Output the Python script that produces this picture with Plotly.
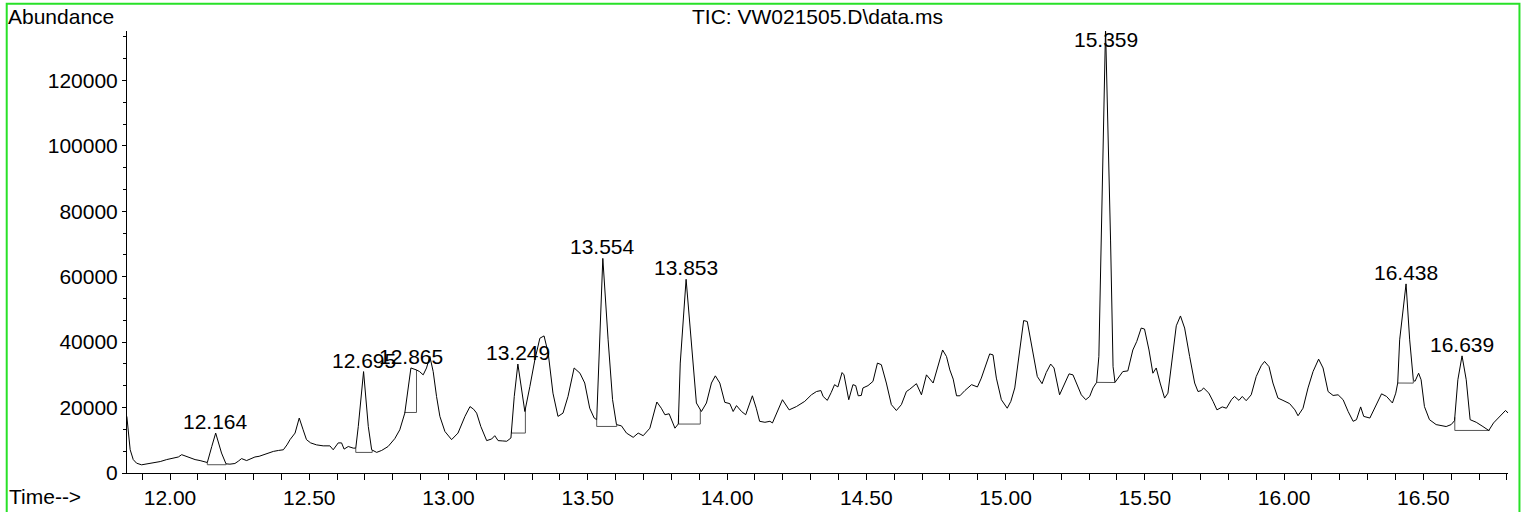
import numpy as np
import plotly.graph_objects as go

# ---- chromatogram (TIC) ----
time_min = [
    11.845, 11.857, 11.868, 11.880, 11.898, 11.920, 11.940, 11.965, 11.988, 12.012,
    12.030, 12.042, 12.055, 12.072, 12.090, 12.108, 12.125, 12.134, 12.150, 12.164,
    12.185, 12.201, 12.215, 12.233, 12.245, 12.257, 12.275, 12.290, 12.305, 12.320,
    12.335, 12.350, 12.371, 12.390, 12.407, 12.420, 12.431, 12.449, 12.464, 12.478,
    12.490, 12.505, 12.526, 12.550, 12.574, 12.586, 12.604, 12.616, 12.625, 12.640,
    12.658, 12.667, 12.676, 12.695, 12.712, 12.724, 12.742, 12.760, 12.783, 12.807,
    12.825, 12.843, 12.855, 12.865, 12.885, 12.896, 12.909, 12.921, 12.933, 12.945,
    12.957, 12.969, 12.987, 13.011, 13.034, 13.059, 13.077, 13.090, 13.101, 13.116,
    13.137, 13.155, 13.166, 13.178, 13.195, 13.209, 13.224, 13.236, 13.249, 13.262,
    13.274, 13.292, 13.310, 13.328, 13.343, 13.358, 13.375, 13.393, 13.411, 13.429,
    13.451, 13.472, 13.489, 13.507, 13.523, 13.532, 13.543, 13.554, 13.573, 13.589,
    13.603, 13.621, 13.639, 13.663, 13.681, 13.699, 13.723, 13.734, 13.748, 13.764,
    13.777, 13.792, 13.813, 13.825, 13.832, 13.853, 13.876, 13.890, 13.908, 13.926,
    13.944, 13.958, 13.974, 13.992, 14.010, 14.022, 14.034, 14.052, 14.067, 14.091,
    14.105, 14.117, 14.136, 14.154, 14.163, 14.183, 14.199, 14.223, 14.249, 14.279,
    14.303, 14.321, 14.337, 14.345, 14.360, 14.374, 14.386, 14.398, 14.413, 14.420,
    14.437, 14.452, 14.462, 14.471, 14.482, 14.488, 14.506, 14.524, 14.540, 14.554,
    14.572, 14.590, 14.608, 14.626, 14.644, 14.656, 14.680, 14.698, 14.716, 14.740,
    14.758, 14.774, 14.788, 14.800, 14.812, 14.824, 14.836, 14.854, 14.878, 14.899,
    14.913, 14.931, 14.943, 14.955, 14.967, 14.985, 15.006, 15.019, 15.033, 15.051,
    15.065, 15.078, 15.093, 15.114, 15.131, 15.146, 15.162, 15.174, 15.194, 15.212,
    15.228, 15.242, 15.257, 15.272, 15.288, 15.302, 15.314, 15.327, 15.335, 15.344,
    15.359, 15.377, 15.386, 15.393, 15.407, 15.421, 15.439, 15.457, 15.471, 15.487,
    15.499, 15.515, 15.529, 15.541, 15.555, 15.571, 15.583, 15.599, 15.613, 15.628,
    15.643, 15.661, 15.679, 15.691, 15.703, 15.711, 15.730, 15.745, 15.759, 15.778,
    15.793, 15.811, 15.822, 15.838, 15.850, 15.864, 15.882, 15.900, 15.918, 15.930,
    15.946, 15.960, 15.978, 15.996, 16.020, 16.039, 16.050, 16.068, 16.086, 16.104,
    16.124, 16.140, 16.158, 16.176, 16.194, 16.212, 16.230, 16.248, 16.260, 16.275,
    16.286, 16.308, 16.326, 16.350, 16.368, 16.389, 16.401, 16.408, 16.415, 16.438,
    16.451, 16.464, 16.470, 16.483, 16.492, 16.504, 16.522, 16.546, 16.582, 16.600,
    16.612, 16.624, 16.639, 16.654, 16.668, 16.690, 16.714, 16.735, 16.752, 16.774,
    16.795, 16.805,
]
abundance = [
    17300, 7100, 4100, 3000, 2500, 2800, 3000, 3500, 4100, 4600,
    4900, 5600, 5200, 4600, 4100, 3800, 3400, 3200, 8100, 12200,
    6100, 2800, 2700, 2900, 3600, 4400, 3800, 4300, 4900, 5100,
    5600, 5900, 6600, 6900, 7100, 8600, 10200, 12200, 16800, 13200,
    10200, 9200, 8600, 8300, 8300, 7100, 9200, 9200, 7300, 8100,
    7600, 7600, 14200, 31000, 14200, 7100, 6300, 6900, 8100, 10500,
    13200, 18300, 26400, 32100, 31500, 31000, 30000, 32100, 35600, 31000,
    23400, 17300, 12700, 10200, 12200, 17300, 20300, 19500, 18300, 14200,
    9900, 10400, 11400, 9900, 9800, 9700, 10700, 23400, 33300, 25400,
    18800, 26400, 34600, 41200, 41900, 36600, 24400, 17300, 18300, 23400,
    32100, 30500, 27500, 19800, 16800, 16300, 38700, 65600, 40700, 22400,
    14800, 14400, 12200, 10900, 12200, 11400, 13700, 17300, 21700, 19800,
    17800, 18100, 13700, 15000, 33600, 59200, 34600, 21400, 18800, 21400,
    27500, 29700, 27500, 21600, 21200, 18800, 20600, 18800, 17800, 23600,
    19800, 15800, 15500, 15800, 15300, 19300, 22400, 19300, 20300, 21900,
    23900, 24900, 25200, 23400, 22200, 24600, 27000, 26300, 30700, 30000,
    22400, 27000, 26700, 23600, 23700, 26000, 26700, 28000, 33600, 33100,
    27500, 20900, 19100, 20900, 24900, 25600, 27300, 23900, 30000, 27500,
    33100, 37600, 35600, 31500, 28700, 23600, 23600, 25200, 27000, 26300,
    29000, 33600, 36400, 36100, 29000, 22400, 19800, 21900, 26000, 37600,
    46600, 46300, 39700, 29500, 27300, 30700, 33300, 32100, 23900, 27500,
    30300, 30000, 26700, 23900, 22400, 23400, 26000, 27700, 35600, 71200,
    136000, 71200, 32500, 27700, 29500, 31000, 31200, 37600, 40200, 44300,
    44000, 37600, 30500, 32100, 27500, 22900, 24400, 34600, 45000, 48000,
    44300, 35600, 27500, 24900, 25200, 26000, 24400, 21900, 19300, 20200,
    19800, 22400, 23400, 22200, 23400, 22100, 23900, 29500, 32800, 34100,
    32500, 27500, 22900, 22200, 21200, 19300, 17500, 19800, 26000, 31000,
    34800, 32100, 24900, 23700, 23900, 22400, 18800, 15800, 16300, 20200,
    17300, 16800, 19800, 24200, 23400, 21400, 24400, 27500, 40700, 57800,
    40700, 28500, 28000, 30500, 28500, 20300, 16300, 14800, 14200, 14800,
    16000, 28500, 35800, 28500, 16300, 15500, 14200, 13000, 15300, 17300,
    19100, 18300,
]

# ---- integrated peaks ----
peak_labels = ["12.164", "12.695", "12.865", "13.249", "13.554", "13.853", "15.359", "16.438", "16.639"]
peak_times = [12.164, 12.695, 12.865, 13.249, 13.554, 13.853, 15.359, 16.438, 16.639]
int_start = [12.134, 12.667, 12.843, 13.226, 13.532, 13.826, 15.327, 16.408, 16.613]
int_end = [12.201, 12.726, 12.885, 13.276, 13.604, 13.904, 15.393, 16.464, 16.737]
int_base = [2530, 6290, 18500, 12210, 14230, 14960, 27660, 27480, 13010]

# ---- axes ----
x_range = [11.8456, 16.804]
y_range = [0, 135100]

FONT = "Liberation Sans, Arial, sans-serif"
FS = 21

fig = go.Figure()

for s, e, b in zip(int_start, int_end, int_base):
    ys = float(np.interp(s, time_min, abundance))
    ye = float(np.interp(e, time_min, abundance))
    fig.add_trace(go.Scatter(
        x=[s, s, e, e], y=[ys, b, b, ye], mode="lines",
        line=dict(color="#555555", width=1), hoverinfo="skip", showlegend=False,
    ))

fig.add_trace(go.Scatter(
    x=time_min, y=abundance, mode="lines",
    line=dict(color="black", width=1), showlegend=False,
))

label_cap = 129000
for lab, t in zip(peak_labels, peak_times):
    apex = float(np.interp(t, time_min, abundance))
    fig.add_annotation(
        x=t, y=min(apex, label_cap), text=lab, showarrow=False,
        xanchor="center", yanchor="bottom", yshift=-2,
        font=dict(family=FONT, size=FS, color="black"),
    )

# header / footer texts
fig.add_annotation(xref="paper", yref="paper", x=0.5, y=1.0332, text="TIC: VW021505.D\\data.ms",
                   showarrow=False, xanchor="center", yanchor="middle",
                   font=dict(family=FONT, size=FS, color="black"))
fig.add_annotation(xref="paper", yref="paper", x=-0.0875, y=1.0332, text="Abundance",
                   showarrow=False, xanchor="left", yanchor="middle",
                   font=dict(family=FONT, size=FS, color="black"))
fig.add_annotation(xref="paper", yref="paper", x=-0.0868, y=-0.0535, text="Time-->",
                   showarrow=False, xanchor="left", yanchor="middle",
                   font=dict(family=FONT, size=FS, color="black"))

# green frame
fig.add_shape(type="rect", xref="paper", yref="paper",
              x0=-0.0871, x1=1.0083, y0=-0.3, y1=1.0619,
              line=dict(color="rgb(40,225,40)", width=2), layer="above")

fig.update_layout(
    width=1526, height=512,
    margin=dict(l=127, r=18, t=31, b=39, autoexpand=False),
    paper_bgcolor="white", plot_bgcolor="white",
    font=dict(family=FONT, size=FS, color="black"),
    showlegend=False,
    xaxis=dict(
        range=x_range, tickmode="linear", tick0=12.0, dtick=0.5, tickformat=".2f",
        ticks="outside", ticklen=6, tickcolor="black", tickwidth=1,
        showline=True, linecolor="black", linewidth=1,
        showgrid=False, zeroline=False, automargin=False,
        minor=dict(dtick=0.1, tick0=12.0, ticks="outside", ticklen=6, tickcolor="black", showgrid=False),
        tickfont=dict(family=FONT, size=FS, color="black"),
    ),
    yaxis=dict(
        range=y_range, tickmode="linear", tick0=0, dtick=20000, tickformat="d",
        ticks="outside", ticklen=4, tickcolor="black", tickwidth=1,
        showline=True, linecolor="black", linewidth=1,
        showgrid=False, zeroline=False, automargin=False,
        minor=dict(dtick=20000 / 3, tick0=0, ticks="outside", ticklen=3, tickcolor="black", showgrid=False),
        tickfont=dict(family=FONT, size=FS, color="black"),
    ),
)

fig.write_html(
    "out.html",
    config={"displayModeBar": False},
    post_script="document.body.style.margin='0';document.body.style.overflow='hidden';"
                "document.documentElement.style.overflow='hidden';",
)
